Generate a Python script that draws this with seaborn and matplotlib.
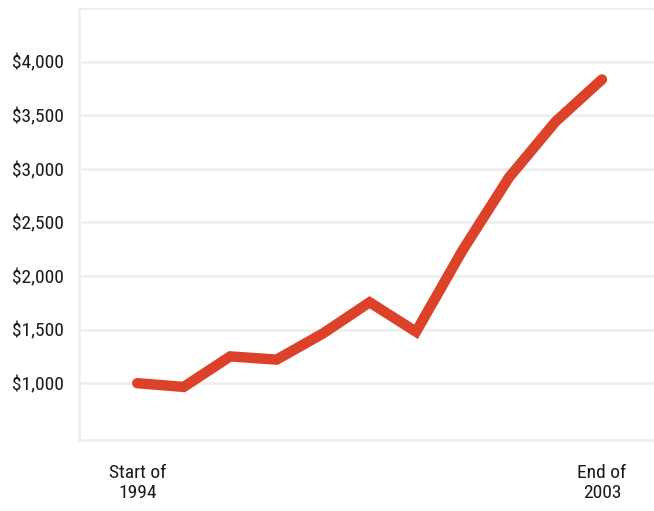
import seaborn as sns
import pandas as pd
import matplotlib.pyplot as plt

periods = list(range(11))
values = [1000, 965, 1250, 1220, 1465, 1755, 1480, 2240, 2920, 3440, 3835]
tick_labels = ["Start of\n1994", "", "", "", "", "", "", "", "", "", "End of\n2003"]
y_ticks = [1000, 1500, 2000, 2500, 3000, 3500, 4000]

df = pd.DataFrame({"period": periods, "value": values})

sns.set_style("white")
plt.rcParams['font.family'] = ['Roboto Condensed', 'Roboto', 'DejaVu Sans']

fig = plt.figure(figsize=(6.54, 5.11), dpi=100)
ax = fig.add_axes([0.121, 0.139, 0.879, 0.845])

grid_c = '#efefef'
for v in y_ticks + [4500]:
    ax.axhline(v, color=grid_c, lw=2, zorder=0)

sns.lineplot(data=df, x='period', y='value', color='#db4229', lw=7.5,
             solid_capstyle='round', solid_joinstyle='miter', ax=ax)

ax.set_xlim(-1.25, 11.12)
ax.set_ylim(470, 4500)
ax.set_xticks(periods)
ax.set_xticklabels(tick_labels, fontsize=14, color='#1a1a1a', linespacing=1.15)
ax.set_yticks(y_ticks)
ax.set_yticklabels([f"${v:,}" for v in y_ticks], fontsize=14, color='#1a1a1a')
ax.tick_params(axis='x', length=9, width=2, color=grid_c, pad=8)
ax.tick_params(axis='y', length=0, pad=11)
ax.set_xlabel('')
ax.set_ylabel('')
for s in ['top', 'right']:
    ax.spines[s].set_visible(False)
for s in ['left', 'bottom']:
    ax.spines[s].set_color(grid_c)
    ax.spines[s].set_linewidth(2)

fig.savefig('out.png', dpi=100)
